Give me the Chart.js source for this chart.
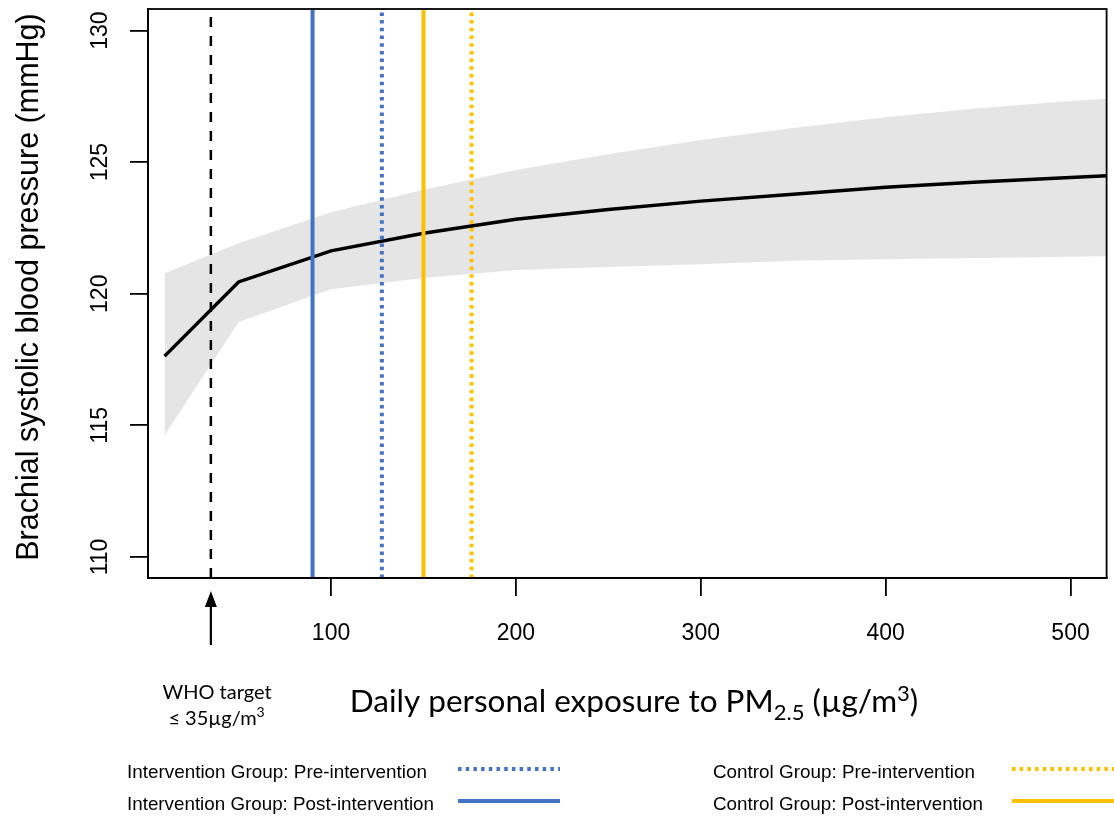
<!DOCTYPE html>
<html>
<head>
<meta charset="utf-8">
<script src="https://cdn.jsdelivr.net/npm/chart.js@4"></script>
<style>
  html, body { margin: 0; padding: 0; background: #fff; }
  #wrap { width: 1114px; height: 817px; }
</style>
</head>
<body>
<div id="wrap"><canvas id="grafica" width="1114" height="817"></canvas></div>
<script>
// daily personal PM2.5 exposure (ug/m3) and fitted brachial SBP (mmHg)
const exposure = [10, 50, 100, 150, 200, 250, 300, 350, 400, 450, 500, 550];
const sbpFit   = [117.63, 120.45, 121.63, 122.30, 122.83, 123.20, 123.52, 123.78, 124.05, 124.25, 124.42, 124.58];
const sbpUpper = [120.78, 121.92, 123.10, 123.95, 124.70, 125.30, 125.84, 126.30, 126.71, 127.05, 127.32, 127.55];
const sbpLower = [114.62, 118.93, 120.17, 120.60, 120.90, 121.02, 121.12, 121.25, 121.31, 121.36, 121.41, 121.46];

// vertical reference lines (mean exposure per group)
const whoTarget = 35;
const groupLabels = ['Intervention Group: Pre-intervention', 'Intervention Group: Post-intervention',
                     'Control Group: Pre-intervention', 'Control Group: Post-intervention'];
const groupExposure = [127.5, 90, 176, 150];

const xTicks = [100, 200, 300, 400, 500];
const yTicks = [110, 115, 120, 125, 130];
const xRange = [1, 519.5];
const yRange = [109.2, 130.82];

const azul = '#4472C4';
const naranja = '#FFC000';
const colores = [azul, azul, naranja, naranja];
const punteado = [[3.5, 4.2], [], [3.5, 4.2], []];

const puntos = (ys) => exposure.map((x, i) => ({ x: x, y: ys[i] }));
const vertical = (x) => [{ x: x, y: yRange[0] }, { x: x, y: yRange[1] }];

// order: higher is drawn first (underneath)
const datasets = [
    { data: puntos(sbpUpper), borderWidth: 0, pointRadius: 0, fill: '+1', backgroundColor: '#e5e5e5', order: 5 },
    { data: puntos(sbpLower), borderWidth: 0, pointRadius: 0, fill: false, order: 4 },
    { data: puntos(sbpFit), borderColor: '#000', borderWidth: 3.5, pointRadius: 0, fill: false, order: 3 },
    { data: vertical(whoTarget), borderColor: '#000', borderWidth: 2.5, borderDash: [10, 9], pointRadius: 0, fill: false, order: 1 }
];
for (var i in groupExposure) {
    datasets.push({
        data: vertical(groupExposure[i]),
        borderColor: colores[i],
        borderWidth: 4,
        borderDash: punteado[i],
        pointRadius: 0,
        fill: false,
        order: 1
    });
}

// box, rotated y labels, titles, WHO arrow and the legend drawn below
const extras = {
    id: 'extras',
    afterDraw(chart) {
        const ctx = chart.ctx;
        const a = chart.chartArea;
        const ys = chart.scales.y;
        const xs = chart.scales.x;
        ctx.save();
        ctx.strokeStyle = '#000';
        ctx.lineWidth = 1.8;
        ctx.strokeRect(a.left, a.top, a.right - a.left, a.bottom - a.top);

        // y tick labels, rotated as in R
        ctx.fillStyle = '#000';
        ctx.font = '23px "Liberation Sans", Arial, sans-serif';
        ctx.textAlign = 'center';
        ctx.textBaseline = 'alphabetic';
        yTicks.forEach(v => {
            ctx.save();
            ctx.translate(107, ys.getPixelForValue(v));
            ctx.rotate(-Math.PI / 2);
            ctx.fillText(String(v), 0, 0);
            ctx.restore();
        });

        // y title
        ctx.save();
        ctx.font = '30.5px "Liberation Sans", Arial, sans-serif';
        ctx.translate(38, 287);
        ctx.rotate(-Math.PI / 2);
        ctx.fillText('Brachial systolic blood pressure (mmHg)', 0, 0);
        ctx.restore();

        // x title with sub/superscript
        const big = '31.5px Lato, "Open Sans", sans-serif';
        const small = '22px Lato, "Open Sans", sans-serif';
        const partes = [
            ['Daily personal exposure to PM', big, 0],
            ['2.5', small, 8],
            [' (µg/m', big, 0],
            ['3', small, -11],
            [')', big, 0]
        ];
        let total = 0;
        partes.forEach(p => { ctx.font = p[1]; total += ctx.measureText(p[0]).width; });
        let x = 634 - total / 2;
        ctx.textAlign = 'left';
        partes.forEach(p => {
            ctx.font = p[1];
            ctx.fillText(p[0], x, 712 + p[2]);
            x += ctx.measureText(p[0]).width;
        });

        // WHO arrow and label
        const wx = xs.getPixelForValue(whoTarget);
        ctx.lineWidth = 2.2;
        ctx.beginPath();
        ctx.moveTo(wx, 645);
        ctx.lineTo(wx, 600);
        ctx.stroke();
        ctx.beginPath();
        ctx.moveTo(wx, 591);
        ctx.lineTo(wx - 6, 607);
        ctx.lineTo(wx + 6, 607);
        ctx.closePath();
        ctx.fill();
        ctx.textAlign = 'center';
        ctx.font = '20px Lato, "Open Sans", sans-serif';
        ctx.fillText('WHO target', 217, 699);
        const t1 = '\u2264 35µg/m';
        const w1 = ctx.measureText(t1).width;
        ctx.textAlign = 'left';
        ctx.fillText(t1, 217 - (w1 + 9) / 2, 725);
        ctx.font = '14px Lato, "Open Sans", sans-serif';
        ctx.fillText('3', 217 - (w1 + 9) / 2 + w1, 717);

        // legend (narrow text: squeeze a regular face horizontally)
        const filas = [773, 805];
        const cols = [{ tx: 127, l0: 458, l1: 560, w: [300, 307] }, { tx: 713, l0: 1012, l1: 1114, w: [262, 270] }];
        ctx.textBaseline = 'middle';
        groupLabels.forEach((lab, k) => {
            const c = cols[Math.floor(k / 2)];
            const r = k % 2;
            ctx.font = '19px "Liberation Sans", Arial, sans-serif';
            const ancho = ctx.measureText(lab).width;
            ctx.save();
            ctx.translate(c.tx, filas[r]);
            ctx.scale(c.w[r] / ancho, 1);
            ctx.fillStyle = '#000';
            ctx.fillText(lab, 0, 0);
            ctx.restore();
            ctx.strokeStyle = colores[k];
            ctx.lineWidth = 4;
            ctx.setLineDash(punteado[k]);
            ctx.beginPath();
            ctx.moveTo(c.l0, filas[r] - 4);
            ctx.lineTo(c.l1, filas[r] - 4);
            ctx.stroke();
        });
        ctx.restore();
    }
};

new Chart(document.getElementById('grafica'), {
    type: 'line',
    data: { datasets: datasets },
    options: {
        responsive: false,
        animation: false,
        events: [],
        layout: { padding: { top: 9, right: 7, left: 0, bottom: 0 } },
        plugins: { legend: { display: false }, tooltip: { enabled: false } },
        scales: {
            x: {
                type: 'linear',
                min: xRange[0],
                max: xRange[1],
                afterBuildTicks: (s) => { s.ticks = xTicks.map(v => ({ value: v })); },
                afterFit: (s) => { s.height = 239; },
                ticks: { color: '#000', font: { size: 23, family: '"Liberation Sans", Arial, sans-serif' }, padding: 24, maxRotation: 0 },
                grid: { drawOnChartArea: false, tickLength: 18, color: '#000', lineWidth: 1.8 },
                border: { color: '#000', width: 1.8 }
            },
            y: {
                type: 'linear',
                min: yRange[0],
                max: yRange[1],
                afterBuildTicks: (s) => { s.ticks = yTicks.map(v => ({ value: v })); },
                afterFit: (s) => { s.width = 148; },
                ticks: { display: false },
                grid: { drawOnChartArea: false, tickLength: 18, color: '#000', lineWidth: 1.8 },
                border: { color: '#000', width: 1.8 }
            }
        }
    },
    plugins: [extras]
});
</script>
</body>
</html>
